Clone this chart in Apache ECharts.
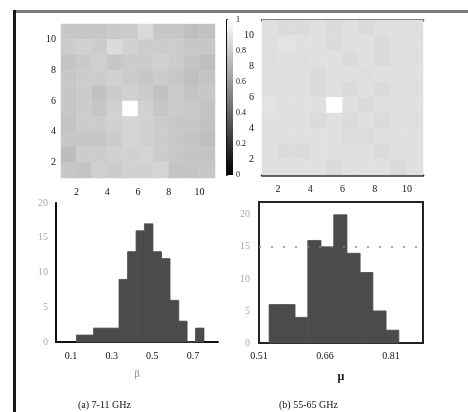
<!DOCTYPE html>
<html>
<head>
<meta charset="utf-8">
<script src="https://cdn.jsdelivr.net/npm/echarts@6/dist/echarts.min.js"></script>
<style>
html, body { margin: 0; padding: 0; background: #fff; }
#main { width: 468px; height: 412px; }
</style>
</head>
<body>
<div id="main"></div>
<script>
// grey level of each cell (0 black .. 1 white), rows from top to bottom
var mapLow = [
    [0.78, 0.78, 0.78, 0.79, 0.80, 0.85, 0.78, 0.78, 0.75, 0.76],
    [0.80, 0.82, 0.80, 0.86, 0.82, 0.80, 0.80, 0.80, 0.78, 0.78],
    [0.77, 0.79, 0.81, 0.78, 0.80, 0.80, 0.82, 0.80, 0.77, 0.75],
    [0.78, 0.80, 0.80, 0.82, 0.80, 0.78, 0.80, 0.78, 0.75, 0.77],
    [0.78, 0.80, 0.76, 0.80, 0.82, 0.80, 0.76, 0.80, 0.77, 0.78],
    [0.78, 0.80, 0.78, 0.82, 1.00, 0.82, 0.78, 0.80, 0.79, 0.77],
    [0.77, 0.80, 0.80, 0.82, 0.83, 0.82, 0.80, 0.78, 0.78, 0.76],
    [0.78, 0.78, 0.78, 0.80, 0.83, 0.82, 0.80, 0.78, 0.77, 0.75],
    [0.74, 0.80, 0.80, 0.82, 0.82, 0.83, 0.80, 0.78, 0.77, 0.77],
    [0.78, 0.77, 0.81, 0.80, 0.82, 0.82, 0.83, 0.77, 0.77, 0.78]
];
var mapHigh = [
    [0.88, 0.86, 0.86, 0.88, 0.86, 0.88, 0.86, 0.88, 0.88, 0.87],
    [0.88, 0.89, 0.88, 0.88, 0.86, 0.88, 0.88, 0.86, 0.88, 0.88],
    [0.87, 0.88, 0.87, 0.88, 0.88, 0.86, 0.88, 0.86, 0.88, 0.87],
    [0.88, 0.88, 0.88, 0.86, 0.88, 0.88, 0.87, 0.88, 0.88, 0.88],
    [0.88, 0.88, 0.88, 0.86, 0.88, 0.86, 0.88, 0.86, 0.88, 0.87],
    [0.89, 0.88, 0.88, 0.88, 1.00, 0.88, 0.86, 0.88, 0.88, 0.88],
    [0.88, 0.88, 0.88, 0.86, 0.88, 0.86, 0.88, 0.86, 0.88, 0.87],
    [0.87, 0.88, 0.88, 0.88, 0.88, 0.86, 0.86, 0.88, 0.88, 0.88],
    [0.88, 0.86, 0.86, 0.88, 0.88, 0.88, 0.88, 0.86, 0.88, 0.88],
    [0.88, 0.88, 0.88, 0.88, 0.86, 0.88, 0.88, 0.88, 0.86, 0.88]
];
var mapTicks = [2, 4, 6, 8, 10];
var barTicks = [0, 0.2, 0.4, 0.6, 0.8, 1];

// histogram of beta (7-11 GHz)
var betaEdges = [0.127, 0.169, 0.211, 0.252, 0.294, 0.336, 0.378, 0.420, 0.461, 0.503, 0.545, 0.587, 0.630, 0.671, 0.712, 0.754];
var betaCounts = [1, 1, 2, 2, 2, 9, 13, 16, 17, 13, 12, 6, 3, 0, 2];
var betaTicks = [0.1, 0.3, 0.5, 0.7];

// histogram of mu (55-65 GHz)
var muEdges = [0.533, 0.562, 0.592, 0.621, 0.651, 0.680, 0.710, 0.740, 0.769, 0.799, 0.828];
var muCounts = [6, 6, 4, 16, 15, 20, 14, 11, 5, 2];
var muTicks = [0.51, 0.66, 0.81];
var muRef = 15;

var font = 'Liberation Serif';

function cells(m) {
    var out = [];
    m.forEach(function (row, r) {
        row.forEach(function (v, c) {
            out.push([c + 1, m.length - r, v]);
        });
    });
    return out;
}

function bins(edges, counts) {
    return counts.map(function (n, i) {
        return [edges[i], edges[i + 1], n];
    });
}

function cellItem(params, api) {
    var p0 = api.coord([api.value(0), api.value(1)]);
    var p1 = api.coord([api.value(0) + 1, api.value(1) + 1]);
    var col = api.visual('color');
    return {
        type: 'rect',
        shape: {x: p0[0], y: p1[1], width: p1[0] - p0[0], height: p0[1] - p1[1]},
        style: {fill: col, stroke: col, lineWidth: 0.5}
    };
}

function binItem(params, api) {
    var a = api.coord([api.value(0), api.value(2)]);
    var b = api.coord([api.value(1), 0]);
    return {
        type: 'rect',
        shape: {x: a[0], y: a[1], width: b[0] - a[0], height: b[1] - a[1]},
        style: {fill: '#4b4b4b', stroke: '#4b4b4b', lineWidth: 0.8}
    };
}

var tickLabel = {fontFamily: font, fontSize: 10, color: '#111'};
var none = {show: false};

var chart = echarts.init(document.getElementById('main'));
var option = {
    animation: false,
    backgroundColor: '#fff',
    graphic: [
        {type: 'rect', shape: {x: 13, y: 10, width: 455, height: 3}, style: {fill: '#7c7c7c'}},
        {type: 'rect', shape: {x: 13, y: 10, width: 3, height: 402}, style: {fill: '#1a1a1a'}},
        {type: 'text', left: 78, top: 400, style: {text: '(a) 7-11 GHz', font: '10px "Liberation Serif"', fill: '#111'}},
        {type: 'text', left: 279, top: 400, style: {text: '(b) 55-65 GHz', font: '10px "Liberation Serif"', fill: '#111'}}
    ],
    visualMap: {
        show: false,
        type: 'continuous',
        min: 0,
        max: 1,
        dimension: 2,
        seriesIndex: [0, 1],
        inRange: {color: ['#000000', '#ffffff']}
    },
    grid: [
        {left: 61, top: 24, width: 154, height: 154},
        {left: 227, top: 20, width: 6, height: 155},
        {left: 262, top: 20, width: 161, height: 155},
        {left: 56, top: 203, width: 162, height: 139},
        {left: 259, top: 202, width: 164, height: 141, show: true, borderColor: '#222', borderWidth: 2}
    ],
    xAxis: [
        {gridIndex: 0, type: 'value', min: 1, max: 11, axisLine: none, axisTick: none, splitLine: none,
            axisLabel: Object.assign({customValues: mapTicks, margin: 9}, tickLabel)},
        {gridIndex: 1, type: 'category', data: ['bar'], show: false},
        {gridIndex: 2, type: 'value', min: 1, max: 11, axisTick: none, splitLine: none,
            axisLine: {lineStyle: {color: '#333', width: 2.5}},
            axisLabel: Object.assign({customValues: mapTicks, margin: 9}, tickLabel)},
        {gridIndex: 2, type: 'value', min: 1, max: 11, position: 'top', axisTick: none, splitLine: none,
            axisLabel: none, axisLine: {lineStyle: {color: '#333', width: 2.5}}},
        {gridIndex: 3, type: 'value', min: 0.026, max: 0.823, axisTick: none, splitLine: none,
            axisLine: {lineStyle: {color: '#111', width: 2}},
            axisLabel: Object.assign({customValues: betaTicks, margin: 9}, tickLabel),
            name: 'β', nameLocation: 'middle', nameGap: 27,
            nameTextStyle: {fontFamily: font, fontSize: 11, color: '#999'}},
        {gridIndex: 4, type: 'value', min: 0.51, max: 0.883, axisTick: none, splitLine: none, axisLine: none,
            axisLabel: Object.assign({customValues: muTicks, margin: 8}, tickLabel),
            name: 'μ', nameLocation: 'middle', nameGap: 28,
            nameTextStyle: {fontFamily: font, fontSize: 12, color: '#111', fontWeight: 'bold'}}
    ],
    yAxis: [
        {gridIndex: 0, type: 'value', min: 1, max: 11, axisLine: none, axisTick: none, splitLine: none,
            axisLabel: Object.assign({customValues: mapTicks, margin: 5}, tickLabel)},
        {gridIndex: 1, type: 'value', min: 0, max: 1, position: 'right', axisLine: none, axisTick: none, splitLine: none,
            axisLabel: Object.assign({customValues: barTicks, margin: 3}, tickLabel, {fontSize: 8})},
        {gridIndex: 2, type: 'value', min: 1, max: 11, axisLine: none, axisTick: none, splitLine: none,
            axisLabel: Object.assign({customValues: mapTicks, margin: 8}, tickLabel)},
        {gridIndex: 3, type: 'value', min: 0, max: 20, interval: 5, axisTick: none, splitLine: none,
            axisLine: {show: true, lineStyle: {color: '#111', width: 2}},
            axisLabel: Object.assign({margin: 8}, tickLabel, {color: '#aaa'})},
        {gridIndex: 4, type: 'value', min: 0, max: 22, interval: 5, axisTick: none, splitLine: none, axisLine: none,
            axisLabel: Object.assign({customValues: [0, 5, 10, 15, 20], margin: 9}, tickLabel, {color: '#aaa'})},
        {gridIndex: 1, type: 'value', min: 0, max: 1, position: 'left', axisTick: none, splitLine: none, axisLabel: none,
            axisLine: {show: true, lineStyle: {color: '#111', width: 2}}}
    ],
    series: [
        {type: 'custom', xAxisIndex: 0, yAxisIndex: 0, renderItem: cellItem,
            encode: {x: 0, y: 1}, data: cells(mapLow)},
        {type: 'custom', xAxisIndex: 2, yAxisIndex: 2, renderItem: cellItem,
            encode: {x: 0, y: 1}, data: cells(mapHigh)},
        {type: 'bar', xAxisIndex: 1, yAxisIndex: 1, barWidth: '100%', data: [barTicks[barTicks.length - 1]],
            itemStyle: {color: new echarts.graphic.LinearGradient(0, 0, 0, 1, [
                {offset: 0, color: '#ffffff'}, {offset: 1, color: '#000000'}])}},
        {type: 'custom', xAxisIndex: 4, yAxisIndex: 3, renderItem: binItem,
            encode: {x: [0, 1], y: 2}, data: bins(betaEdges, betaCounts)},
        {type: 'custom', xAxisIndex: 5, yAxisIndex: 4, renderItem: binItem,
            encode: {x: [0, 1], y: 2}, data: bins(muEdges, muCounts),
            markLine: {silent: true, symbol: 'none', label: none,
                lineStyle: {color: '#888', type: [2, 10], width: 1.5},
                data: [{yAxis: muRef}]}}
    ]
};
chart.setOption(option);
window.addEventListener('resize', function () {
    chart.resize();
});
</script>
</body>
</html>
